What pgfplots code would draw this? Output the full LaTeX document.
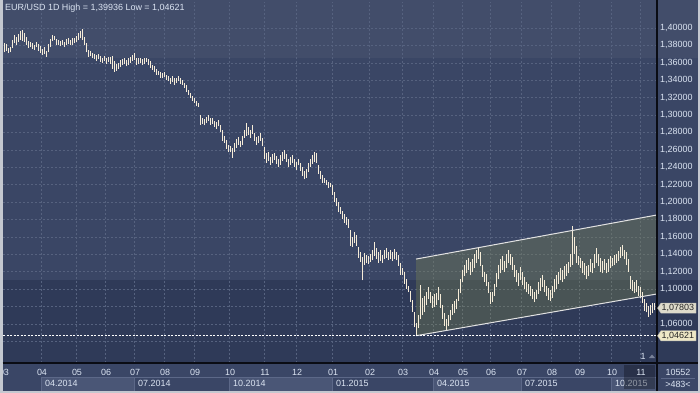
\documentclass[border=0pt]{standalone}
\usepackage{fontspec}
\setmainfont{Liberation Sans}
\usepackage{pgfplots}
\pgfplotsset{compat=1.18}
\usepackage{pgfplotstable}
\definecolor{framec}{HTML}{C4C8D0}
\definecolor{bandA}{HTML}{424D6A}
\definecolor{bandB}{HTML}{3A4665}
\definecolor{bandC}{HTML}{2F3A58}
\definecolor{botc}{HTML}{3A4666}
\definecolor{qboxc}{HTML}{4A5676}
\definecolor{qborder}{HTML}{5C6888}
\definecolor{gridc}{HTML}{56627F}
\definecolor{textc}{HTML}{DBE4F2}
\definecolor{barc}{HTML}{F6ECD8}
\definecolor{tagA}{HTML}{DEDBCB}
\definecolor{tagB}{HTML}{EEE8C6}
\definecolor{chanfill}{RGB}{130,140,80}
\definecolor{chanline}{HTML}{E2E2E2}
\definecolor{darkc}{HTML}{0A0C14}

\pgfplotstableread{
x lo hi
4 1.372 1.383
6 1.374 1.382
8 1.371 1.377
10 1.372 1.378
12 1.377 1.386
14 1.383 1.392
16 1.381 1.390
18 1.384 1.393
20 1.386 1.396
22 1.385 1.398
24 1.384 1.394
26 1.380 1.390
28 1.377 1.385
30 1.378 1.384
32 1.376 1.383
34 1.375 1.381
36 1.378 1.384
38 1.374 1.382
40 1.371 1.379
42 1.369 1.376
44 1.370 1.378
46 1.367 1.374
48 1.372 1.382
50 1.378 1.387
52 1.385 1.392
54 1.386 1.391
56 1.381 1.387
58 1.380 1.386
60 1.379 1.385
62 1.381 1.386
64 1.378 1.384
66 1.380 1.387
68 1.382 1.389
70 1.380 1.386
72 1.381 1.388
74 1.383 1.389
76 1.384 1.391
78 1.386 1.394
80 1.388 1.396
82 1.386 1.3994
84 1.381 1.390
86 1.372 1.383
88 1.367 1.375
90 1.368 1.373
92 1.365 1.371
94 1.364 1.370
96 1.362 1.369
98 1.364 1.370
100 1.361 1.368
102 1.360 1.366
104 1.362 1.368
106 1.359 1.365
108 1.361 1.367
110 1.359 1.367
112 1.353 1.368
114 1.350 1.362
116 1.351 1.359
118 1.353 1.360
120 1.355 1.363
122 1.357 1.364
124 1.359 1.366
126 1.356 1.363
128 1.358 1.365
130 1.360 1.367
132 1.362 1.369
134 1.363 1.371
136 1.358 1.366
138 1.359 1.365
140 1.360 1.366
142 1.358 1.364
144 1.359 1.365
146 1.361 1.366
148 1.357 1.364
150 1.354 1.362
152 1.352 1.358
154 1.349 1.356
156 1.346 1.353
158 1.346 1.351
160 1.343 1.349
162 1.342 1.348
164 1.344 1.349
166 1.340 1.346
168 1.339 1.345
170 1.336 1.343
172 1.338 1.345
174 1.335 1.342
176 1.337 1.343
178 1.339 1.345
180 1.336 1.342
182 1.335 1.340
184 1.331 1.337
186 1.327 1.334
188 1.323 1.329
190 1.319 1.325
192 1.316 1.322
194 1.314 1.319
196 1.310 1.316
198 1.309 1.314
200 1.289 1.300
202 1.290 1.297
204 1.288 1.295
206 1.291 1.298
208 1.293 1.300
210 1.289 1.296
212 1.290 1.297
214 1.286 1.293
216 1.284 1.292
218 1.287 1.294
220 1.281 1.289
222 1.270 1.283
224 1.268 1.276
226 1.261 1.271
228 1.257 1.266
230 1.257 1.264
232 1.2506 1.262
234 1.258 1.268
236 1.262 1.272
238 1.266 1.275
240 1.263 1.270
242 1.265 1.276
244 1.274 1.283
246 1.276 1.2908
248 1.277 1.286
250 1.274 1.283
252 1.278 1.288
254 1.270 1.279
256 1.266 1.275
258 1.268 1.276
260 1.270 1.279
262 1.264 1.274
264 1.250 1.263
266 1.245 1.256
268 1.247 1.257
270 1.243 1.252
272 1.245 1.255
274 1.248 1.256
276 1.244 1.253
278 1.240 1.250
280 1.243 1.254
282 1.247 1.2575
284 1.250 1.2598
286 1.246 1.255
288 1.240 1.250
290 1.243 1.252
292 1.245 1.254
294 1.240 1.249
296 1.237 1.246
298 1.242 1.250
300 1.236 1.245
302 1.230 1.240
304 1.226 1.236
306 1.228 1.238
308 1.235 1.245
310 1.240 1.250
312 1.244 1.254
314 1.246 1.2575
316 1.245 1.256
318 1.232 1.243
320 1.227 1.236
322 1.222 1.231
324 1.222 1.228
326 1.219 1.225
328 1.216 1.223
330 1.217 1.222
332 1.208 1.219
334 1.200 1.212
336 1.195 1.205
338 1.188 1.200
340 1.186 1.194
342 1.180 1.190
344 1.176 1.186
346 1.174 1.183
348 1.170 1.180
350 1.150 1.168
352 1.148 1.160
354 1.153 1.165
356 1.150 1.162
358 1.136 1.148
360 1.131 1.142
362 1.110 1.137
364 1.128 1.141
366 1.130 1.139
368 1.129 1.138
370 1.131 1.140
372 1.133 1.145
374 1.138 1.154
376 1.134 1.147
378 1.130 1.143
380 1.132 1.145
382 1.130 1.139
384 1.134 1.145
386 1.136 1.147
388 1.133 1.143
390 1.134 1.145
392 1.132 1.143
394 1.135 1.146
396 1.133 1.142
398 1.127 1.139
400 1.116 1.130
402 1.116 1.124
404 1.106 1.120
406 1.100 1.112
408 1.096 1.103
410 1.085 1.098
412 1.074 1.087
414 1.056 1.074
416 1.0462 1.061
418 1.055 1.070
420 1.065 1.1046
422 1.070 1.090
424 1.073 1.092
426 1.082 1.097
428 1.088 1.102
430 1.084 1.097
432 1.078 1.092
434 1.079 1.094
436 1.082 1.095
438 1.087 1.102
440 1.078 1.094
442 1.066 1.082
444 1.058 1.072
446 1.053 1.066
448 1.057 1.070
450 1.064 1.076
452 1.070 1.083
454 1.072 1.086
456 1.077 1.088
458 1.086 1.100
460 1.095 1.112
462 1.108 1.122
464 1.115 1.128
466 1.118 1.133
468 1.122 1.136
470 1.116 1.131
472 1.120 1.134
474 1.124 1.140
476 1.130 1.145
478 1.134 1.147
480 1.126 1.142
482 1.114 1.128
484 1.108 1.120
486 1.103 1.117
488 1.095 1.108
490 1.083 1.096
492 1.085 1.097
494 1.092 1.106
496 1.102 1.118
498 1.112 1.128
500 1.118 1.135
502 1.122 1.138
504 1.120 1.132
506 1.124 1.140
508 1.130 1.145
510 1.128 1.140
512 1.122 1.137
514 1.114 1.128
516 1.108 1.122
518 1.104 1.118
520 1.110 1.125
522 1.105 1.119
524 1.100 1.114
526 1.096 1.108
528 1.094 1.106
530 1.092 1.104
532 1.088 1.100
534 1.085 1.097
536 1.088 1.099
538 1.094 1.108
540 1.098 1.113
542 1.102 1.116
544 1.096 1.110
546 1.092 1.104
548 1.087 1.101
550 1.086 1.099
552 1.090 1.104
554 1.096 1.112
556 1.100 1.116
558 1.106 1.120
560 1.110 1.124
562 1.108 1.122
564 1.112 1.126
566 1.115 1.129
568 1.118 1.131
570 1.125 1.140
572 1.128 1.172
574 1.140 1.160
576 1.130 1.150
578 1.128 1.138
580 1.124 1.136
582 1.118 1.132
584 1.116 1.130
586 1.112 1.127
588 1.115 1.128
590 1.120 1.134
592 1.118 1.130
594 1.124 1.140
596 1.130 1.147
598 1.126 1.140
600 1.120 1.136
602 1.118 1.132
604 1.122 1.134
606 1.118 1.130
608 1.120 1.134
610 1.124 1.138
612 1.126 1.136
614 1.128 1.139
616 1.130 1.140
618 1.132 1.144
620 1.136 1.148
622 1.138 1.1506
624 1.134 1.145
626 1.128 1.142
628 1.120 1.134
630 1.100 1.115
632 1.098 1.110
634 1.095 1.108
636 1.096 1.110
638 1.092 1.104
640 1.090 1.102
642 1.084 1.096
644 1.075 1.088
646 1.073 1.084
648 1.068 1.080
650 1.070 1.082
652 1.072 1.084
654 1.0755 1.0840
}\eurusd

\begin{document}
\begin{tikzpicture}[font=\fontsize{9}{10}\selectfont]
\useasboundingbox (0,0) rectangle (700bp,-393bp);
% backgrounds
\fill[framec] (0,0) rectangle (700bp,-393bp);
\fill[bandA] (2.5bp,0) rectangle (697.5bp,-58bp);
\fill[bandB] (2.5bp,-58bp) rectangle (697.5bp,-280bp);
\fill[bandC] (2.5bp,-280bp) rectangle (697.5bp,-363bp);
\fill[botc] (2.5bp,-363bp) rectangle (697.5bp,-390.5bp);

\begin{axis}[
  at={(3bp,-363bp)}, anchor=south west,
  scale only axis, width=654bp, height=361bp,
  xmin=3, xmax=657, ymin=1.01494, ymax=1.42989,
  axis line style={draw=none},
  major tick length=0pt,
  xtick={41,76,105,134,164,194,229,264,296,332,369,402,433,462,490,521,551,579,611,640},
  xticklabels={},
  ytick={1.06,1.10,1.12,1.14,1.16,1.18,1.20,1.22,1.24,1.26,1.28,1.30,1.32,1.34,1.36,1.38,1.40},
  extra y ticks={1.04,1.08},
  extra y tick labels={},
  extra tick style={grid=major},
  yticklabel pos=right,
  /pgf/number format/assume math mode=true,
  yticklabel style={/pgf/number format/.cd, fixed, fixed zerofill, precision=5, use comma, /tikz/.cd, anchor=west, inner sep=0pt, xshift=3bp, text=textc, font=\fontsize{9}{10}\selectfont},
  grid=major,
  major grid style={color=gridc, dash pattern=on 2bp off 2bp, line width=0.6bp},
  clip=true,
]
% channel
\addplot[fill=chanfill, fill opacity=0.32, draw=none] coordinates {(416,1.1344) (657,1.1851) (657,1.0943) (416,1.0463)} -- cycle;
% price bars (high-low)
\addplot[draw=none, mark=none, forget plot,
  error bars/.cd, y dir=plus, y explicit, error mark=none,
  error bar style={draw=barc, line width=1bp, solid}]
  table[x=x, y=lo, y error expr=\thisrow{hi}-\thisrow{lo}] {\eurusd};
% channel lines
\addplot[chanline, line width=1bp] coordinates {(416,1.1344) (657,1.1851)};
\addplot[chanline, line width=1bp] coordinates {(416,1.0463) (657,1.0943)};
% low line
\addplot[white, dash pattern=on 2bp off 1.5bp, line width=0.8bp] coordinates {(3,1.04621) (657,1.04621)};
\end{axis}

% title
\node[anchor=west, text=textc, inner sep=0pt] at (5bp,-8bp) {EUR/USD 1D High = 1,39936 Low = 1,04621};

% quarter boxes
\foreach \a/\b/\f in {41/134/1, 134/229/0, 229/332/1, 332/433/0, 433/521/1, 521/611/0, 611/657/1}{
  \ifnum\f=1
    \fill[qboxc] (\a bp,-377bp) rectangle (\b bp,-390.5bp);
  \fi
  \draw[qborder, line width=0.6bp] (\a bp,-390.5bp) -- (\a bp,-377bp) -- (\b bp,-377bp);
}
\foreach \a/\t in {41/04.2014, 134/07.2014, 229/10.2014, 332/01.2015, 433/04.2015, 521/07.2015, 611/10.2015}{
  \node[anchor=west, text=textc, inner sep=0pt] at (\a bp+4bp,-383.5bp) {\t};
}
% month labels
\foreach \a/\t in {4/03, 42/04, 77/05, 106/06, 135/07, 165/08, 195/09, 230/10, 265/11, 297/12, 333/01, 370/02, 403/03, 434/04, 463/05, 491/06, 522/07, 552/08, 580/09, 612/10}{
  \node[text=textc, inner sep=0pt] at (\a bp,-372bp) {\t};
}
% highlighted current-bar region
\fill[darkc, opacity=0.35] (624bp,-364.5bp) rectangle (655bp,-389bp);
\node[text=textc, inner sep=0pt] at (641bp,-372bp) {11};
\node[text=textc, inner sep=0pt] at (643bp,-356bp) {1};
\fill[gridc!80!white] (649bp,-358bp) -- (652bp,-354.5bp) -- (655bp,-358bp) -- cycle;

% left frame strip over the cut label
\fill[framec] (0,0) rectangle (2.5bp,-393bp);

% separators
\draw[darkc, line width=1.2bp] (657bp,0) -- (657bp,-390.5bp);
\draw[darkc, line width=1.2bp] (2.5bp,-363bp) -- (697.5bp,-363bp);

% bottom-right box
\node[text=textc, inner sep=0pt] at (678bp,-372bp) {10552};
\draw[qborder, line width=0.6bp] (661bp,-378.5bp) -- (695bp,-378.5bp);
\node[text=textc, inner sep=0pt] at (678bp,-384bp) {>483<};

% price tags
\filldraw[fill=tagA, draw=gray!60, line width=0.4bp] (657.5bp,-308.1bp) -- (661bp,-303bp) -- (696bp,-303bp) -- (696bp,-313.2bp) -- (661bp,-313.2bp) -- cycle;
\node[anchor=west, inner sep=0pt, text=black!85] at (661.5bp,-308.2bp) {1,07803};
\filldraw[fill=tagB, draw=gray!60, line width=0.4bp] (657.5bp,-335.8bp) -- (661bp,-330.7bp) -- (696bp,-330.7bp) -- (696bp,-340.9bp) -- (661bp,-340.9bp) -- cycle;
\node[anchor=west, inner sep=0pt, text=black!85] at (661.5bp,-335.9bp) {1,04621};
\end{tikzpicture}
\end{document}
